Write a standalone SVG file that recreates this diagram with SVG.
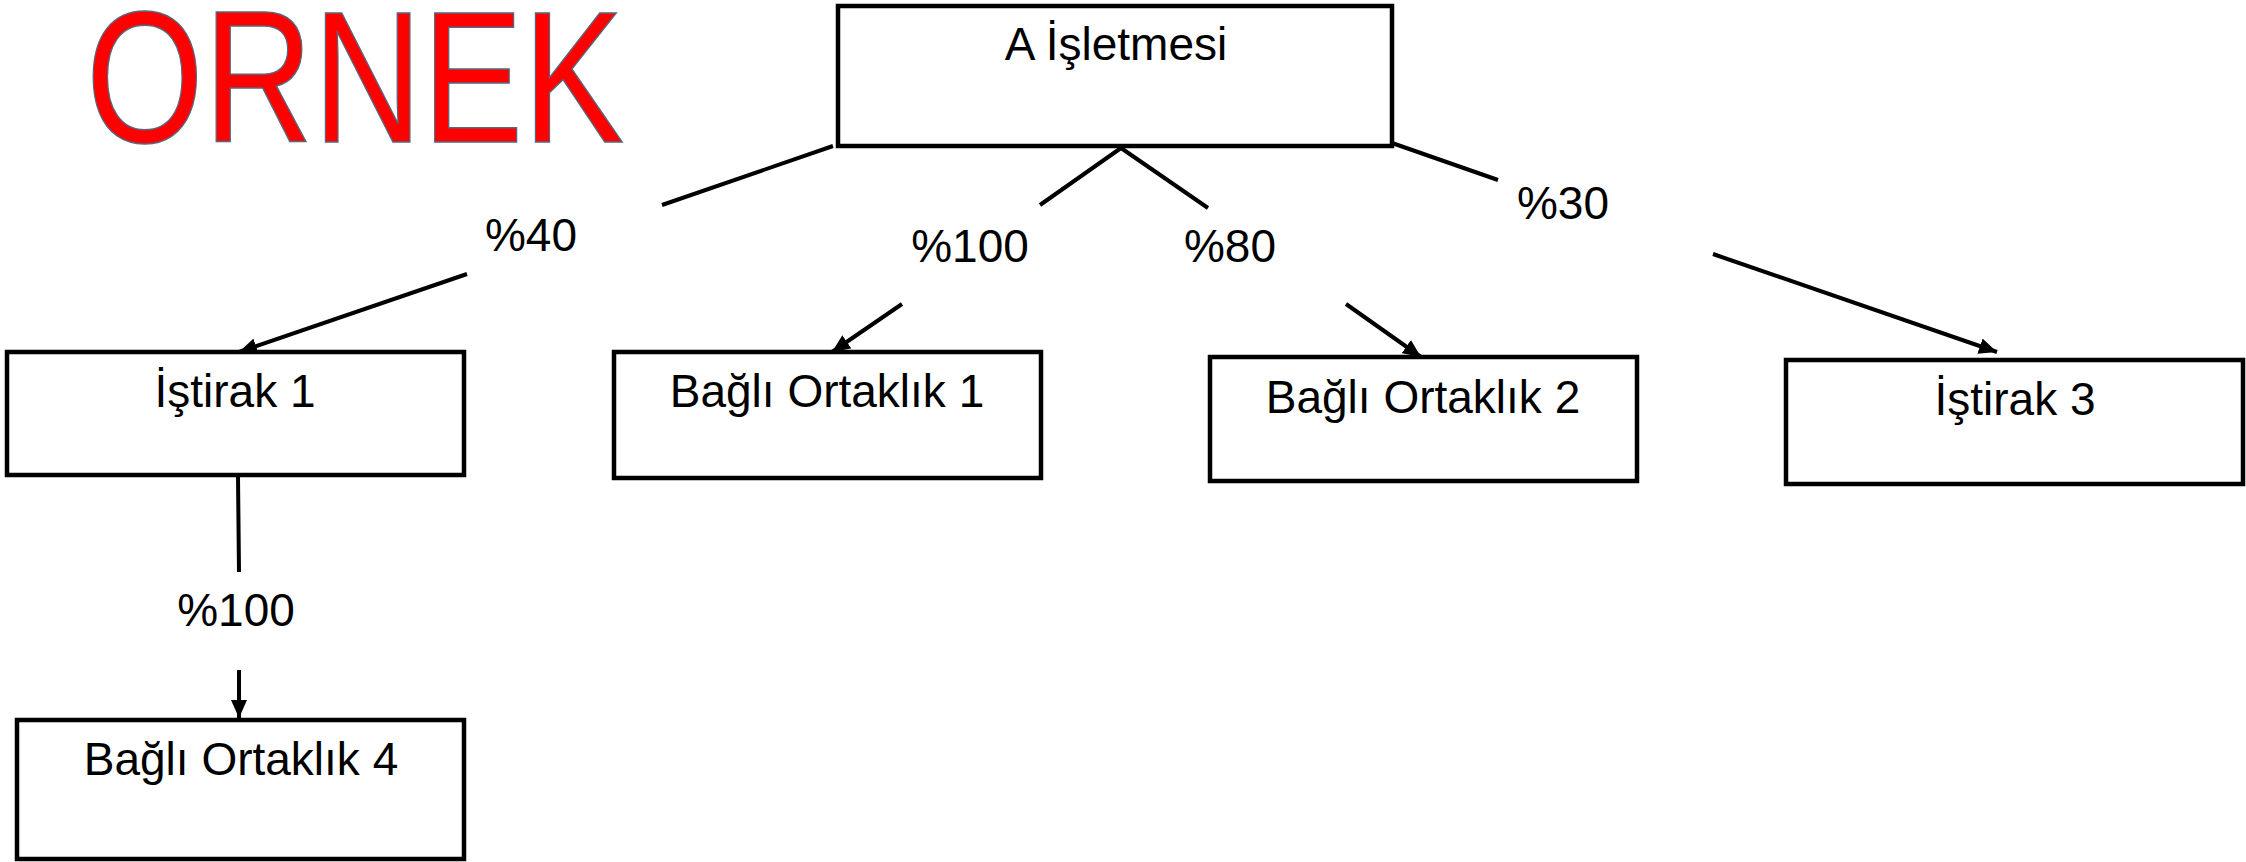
<svg xmlns="http://www.w3.org/2000/svg" width="2246" height="862" viewBox="0 0 2246 862">
<style>
.box{fill:#fff;stroke:#000;stroke-width:4.5}
.t{font-family:"Liberation Sans",Arial,sans-serif;font-size:46px;fill:#000;text-anchor:middle}
.c{fill:none;stroke:#000;stroke-width:4}
.title{font-family:"Liberation Sans",Arial,sans-serif;font-size:188px;fill:#ff0000;stroke:#56687a;stroke-width:1.5}
</style>
<defs>
<marker id="arr" markerUnits="userSpaceOnUse" markerWidth="20" markerHeight="16" refX="18" refY="8" orient="auto">
<path d="M0,0 L18,8 L0,16 Z" fill="#000"/>
</marker>
</defs>
<rect width="2246" height="862" fill="#fff"/>
<text class="title" x="86" y="142" textLength="538" lengthAdjust="spacingAndGlyphs">ORNEK</text>
<g id="connectors">
<path class="c" d="M833,146 L662,205 M467,274 L239,352" marker-end="url(#arr)"/>
<path class="c" d="M1121,148 L1040,205 M902,304 L832,352" marker-end="url(#arr)"/>
<path class="c" d="M1121,148 L1208,208 M1346,304 L1421,357" marker-end="url(#arr)"/>
<path class="c" d="M1392,143 L1498,180 M1713,254 L1997,352" marker-end="url(#arr)"/>
<path class="c" d="M238,476 L239,572 M239,670 L239,718" marker-end="url(#arr)"/>
<text class="t" x="531" y="251">%40</text>
<text class="t" x="970" y="262">%100</text>
<text class="t" x="1230" y="262">%80</text>
<text class="t" x="1563" y="219">%30</text>
<text class="t" x="236" y="626">%100</text>
</g>
<g id="n-a">
<rect class="box" x="838" y="6" width="554" height="140"/>
<text class="t" x="1116" y="60">A İşletmesi</text>
</g>
<g id="n-istirak1">
<rect class="box" x="7" y="352" width="457" height="123"/>
<text class="t" x="235" y="407">İştirak 1</text>
</g>
<g id="n-bo1">
<rect class="box" x="614" y="352" width="427" height="126"/>
<text class="t" x="827" y="407">Bağlı Ortaklık 1</text>
</g>
<g id="n-bo2">
<rect class="box" x="1210" y="357" width="427" height="124"/>
<text class="t" x="1423" y="413">Bağlı Ortaklık 2</text>
</g>
<g id="n-istirak3">
<rect class="box" x="1786" y="360" width="457" height="124"/>
<text class="t" x="2015" y="415">İştirak 3</text>
</g>
<g id="n-bo4">
<rect class="box" x="17" y="720" width="447" height="139"/>
<text class="t" x="241" y="775">Bağlı Ortaklık 4</text>
</g>
</svg>
